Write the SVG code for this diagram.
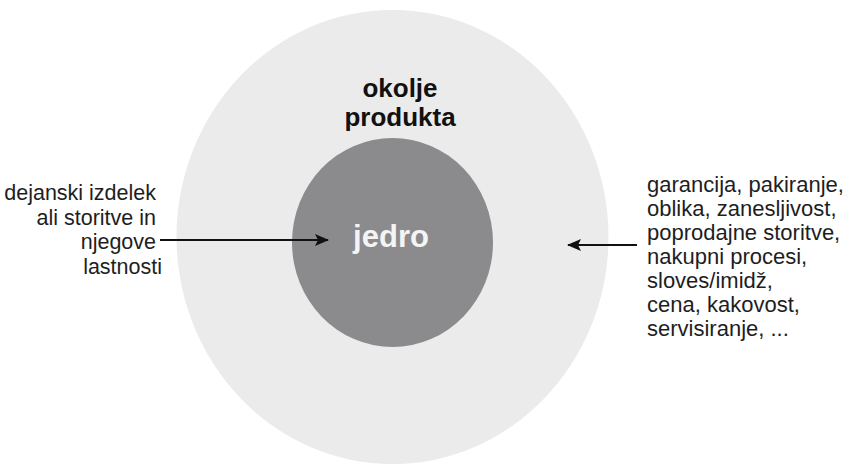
<svg xmlns="http://www.w3.org/2000/svg" width="849" height="468" viewBox="0 0 849 468">
<style>
.lbl{font-family:"Liberation Sans",Arial,sans-serif;font-size:21.5px;fill:#1e1e1e}
.bold{font-family:"Liberation Sans",Arial,sans-serif;font-weight:bold}
.conn{stroke:#111;stroke-width:2;fill:none}
</style>
<defs>
<marker id="ah" viewBox="0 0 14 12" refX="13" refY="6" markerWidth="14" markerHeight="12" markerUnits="userSpaceOnUse" orient="auto">
<path d="M0,0 L14,6 L0,12 L3,6 z" fill="#111"/>
</marker>
</defs>
<rect width="849" height="468" fill="#ffffff"/>
<g id="outer">
<ellipse cx="392.5" cy="237" rx="216" ry="227" fill="#ebebeb"/>
<text class="bold" x="400" y="97" text-anchor="middle" font-size="26" fill="#111">okolje</text>
<text class="bold" x="400" y="126" text-anchor="middle" font-size="26" fill="#111">produkta</text>
</g>
<g id="core">
<ellipse cx="392.5" cy="242.5" rx="100.5" ry="104.5" fill="#8b8b8d"/>
<text class="bold" x="391" y="247" text-anchor="middle" font-size="31" fill="#f4f4f4">jedro</text>
</g>
<g id="left-label">
<text class="lbl" text-anchor="end">
<tspan x="162" y="200">dejanski izdelek</tspan>
<tspan x="162" y="224.5">ali storitve in</tspan>
<tspan x="162" y="249">njegove</tspan>
<tspan x="162" y="273.5">lastnosti</tspan>
</text>
</g>
<g id="right-label">
<text class="lbl" style="font-size:22px">
<tspan x="647" y="192">garancija, pakiranje,</tspan>
<tspan x="647" y="216">oblika, zanesljivost,</tspan>
<tspan x="647" y="240">poprodajne storitve,</tspan>
<tspan x="647" y="264">nakupni procesi,</tspan>
<tspan x="647" y="288">sloves/imidž,</tspan>
<tspan x="647" y="312">cena, kakovost,</tspan>
<tspan x="647" y="336">servisiranje, ...</tspan>
</text>
</g>
<g id="connectors">
<line class="conn" x1="160" y1="240" x2="328" y2="240" marker-end="url(#ah)"/>
<line class="conn" x1="637" y1="245" x2="568" y2="245" marker-end="url(#ah)"/>
</g>
</svg>
